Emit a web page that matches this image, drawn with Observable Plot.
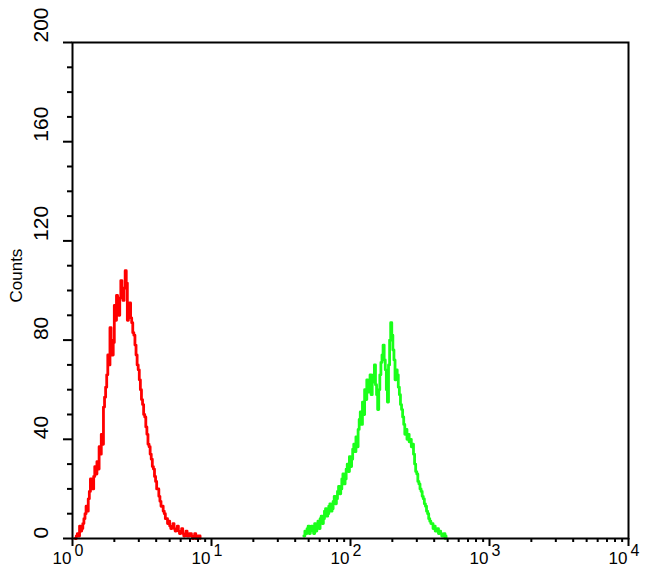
<!DOCTYPE html>
<html>
<head>
<meta charset="utf-8">
<script src="https://cdn.jsdelivr.net/npm/d3@7"></script>
<script src="https://cdn.jsdelivr.net/npm/@observablehq/plot@0.6"></script>
<style>
  html, body { margin: 0; padding: 0; background: #fff; }
  #chart svg { display: block; }
</style>
</head>
<body>
<div id="chart"></div>
<script>
// Histogram channels: 1024 channels over 4 decades (256 per decade), shown in 2-channel bins
const channelsPerDecade = 256;
const channelStep = 2;
const redStartChannel = 5;
const greenStartChannel = 426;

const redCounts = [0,1, 2,1, 5,3, 4,6, 8,10, 13,11, 16,19, 24,21, 20,25, 29,26, 31,28, 37,34, 42,38, 53,57, 61,66, 74,70, 85,80, 74,79, 94,88, 98,93, 90,97, 104,99, 96,101, 108,103, 88,94, 95,89, 87,83, 82,78, 74,70, 68,64, 60,56, 54,50, 49,45, 42,38, 37,34, 32,29, 28,25, 23,20, 20,17, 15,13, 13,11, 10,8, 8,6, 7,5, 4,5, 6,4, 3,4, 5,3, 2,3, 4,2, 1,2, 3,1, 1,2, 2,1, 0,1, 2,0, 0,1, 1,0];

const greenCounts = [1,3, 2,4, 5,2, 3,5, 4,2, 6,3, 5,7, 4,8, 9,6, 8,11, 12,9, 10,13, 14,11, 12,15, 17,14, 16,19, 21,18, 20,24, 26,22, 24,28, 30,27, 33,29, 32,36, 38,35, 41,37, 44,48, 51,46, 55,50, 60,56, 64,59, 62,66, 58,63, 66,70, 62,58, 52,60, 66,71, 74,78, 72,68, 60,55, 70,80, 87,82, 76,72, 64,68, 66,61, 58,54, 52,49, 46,42, 44,40, 42,39, 40,37, 38,34, 30,27, 26,23, 22,20, 19,17, 16,14, 13,11, 10,8, 7,6, 6,4, 5,3, 3,4, 2,3, 2,1, 1,2, 0,1];

const yMajorTicks = [0, 40, 80, 120, 160, 200];
const yMinorTicks = [10, 20, 30, 50, 60, 70, 90, 100, 110, 130, 140, 150, 170, 180, 190];
const xDecades = [1, 10, 100, 1000, 10000];
const xExponents = ["0", "1", "2", "3", "4"];
const xMinorTicks = [1, 10, 100, 1000].flatMap(d => [2,3,4,5,6,7,8,9].map(m => m * d));
const yLabel = "Counts";

const toSeries = (counts, start) => counts.map((c, i) => ({
  x: Math.pow(10, (start + i * channelStep) / channelsPerDecade),
  count: c
}));
const red = toSeries(redCounts, redStartChannel);
const green = toSeries(greenCounts, greenStartChannel);

const font = "Liberation Sans, Arial, Helvetica, sans-serif";

const chart = Plot.plot({
  width: 650,
  height: 585,
  marginLeft: 72,
  marginRight: 22,
  marginTop: 42,
  marginBottom: 47,
  style: { fontFamily: font, background: "#fff", color: "#000" },
  x: { type: "log", domain: [1, 10000], axis: null },
  y: { domain: [0, 200], axis: null },
  marks: [
    Plot.lineY(red, { x: "x", y: "count", curve: "step-after", stroke: "#ff0000", strokeWidth: 2.8 }),
    Plot.lineY(green, { x: "x", y: "count", curve: "step-after", stroke: "#1aff1a", strokeWidth: 2.8 }),
    Plot.frame({ stroke: "#000", strokeWidth: 2 }),
    // y ticks
    Plot.axisY({ ticks: yMinorTicks, tickSize: 5, tickFormat: () => "", strokeWidth: 2, tickPadding: 0, label: null }),
    Plot.axisY({ ticks: yMajorTicks, tickSize: 9, tickFormat: () => "", strokeWidth: 2, tickPadding: 0, label: null }),
    Plot.text(yMajorTicks, { y: d => d, frameAnchor: "left", dx: -31, rotate: -90, text: d => String(d), fontSize: 21, fill: "#000" }),
    // x ticks
    Plot.axisX({ ticks: xMinorTicks, tickSize: 4, tickFormat: () => "", strokeWidth: 2, tickPadding: 0, label: null }),
    Plot.axisX({ ticks: xDecades, tickSize: 8, tickFormat: () => "", strokeWidth: 2, tickPadding: 0, label: null }),
    Plot.text(xDecades, { x: d => d, frameAnchor: "bottom", dy: 25, dx: -1, text: () => "10", textAnchor: "end", fontSize: 17, fill: "#000" }),
    Plot.text(xDecades, { x: d => d, frameAnchor: "bottom", dy: 17, dx: 2, text: (d, i) => xExponents[i], textAnchor: "start", fontSize: 16, fill: "#000" }),
    // axis label
    Plot.text([yLabel], { frameAnchor: "left", dx: -56, dy: 12, rotate: -90, text: d => d, fontSize: 17, fill: "#000" })
  ]
});
document.getElementById("chart").appendChild(chart);
</script>
</body>
</html>
